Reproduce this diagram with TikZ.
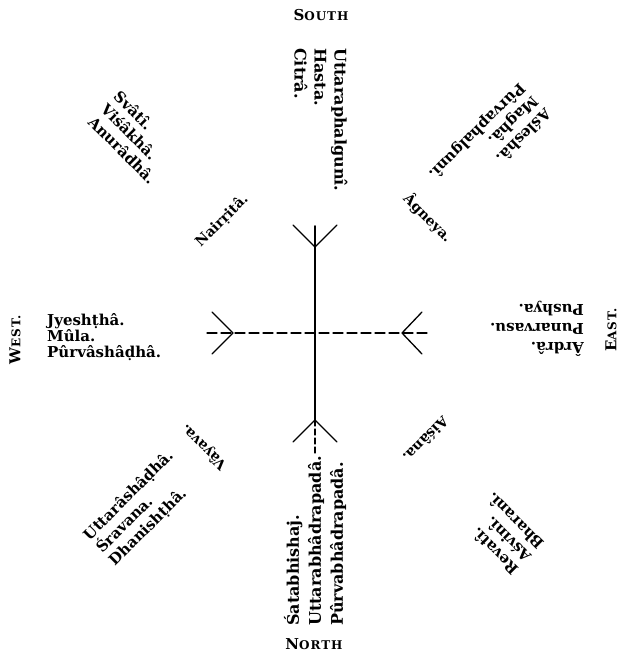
\documentclass[tikz,border=0pt]{standalone}
\usepackage{fontspec}
\setmainfont{DejaVu Serif}
\newcommand{\quartername}[2]{#1{\fontsize{12}{12}\selectfont#2}}
\begin{document}
\begin{tikzpicture}[x=1pt,y=-1pt,line cap=round,
    naksatra/.style={font=\bfseries\fontsize{16}{#1}\selectfont,align=left,inner sep=0pt},
    naksatra/.default=19,
    corner/.style={font=\bfseries\fontsize{15}{18}\selectfont,align=left,inner sep=0pt},
    dikpala/.style={font=\bfseries\fontsize{14}{18}\selectfont,inner sep=0pt},
    quarter/.style={font=\bfseries\fontsize{15}{15}\selectfont\addfontfeatures{LetterSpace=8},inner sep=0pt},
    shaft/.style={line width=1.6pt},
    feather/.style={line width=1.3pt}]
  \useasboundingbox (0,0) rectangle (621,660);
  % quarters
  \node[quarter] (south) at (321,15) {\quartername{S}{OUTH}};
  \node[quarter] (north) at (314,644) {\quartername{N}{ORTH}};
  \node[quarter,rotate=90] (west) at (15,340) {\quartername{W}{EST.}};
  \node[quarter,rotate=90] (east) at (611,330) {\quartername{E}{AST.}};
  % lunar mansions
  \node[naksatra=20,rotate=-90,anchor=west] (hasta) at (321,48) {Uttaraphalgunî.\\Hasta.\\Citrâ.};
  \node[naksatra=22,rotate=90,anchor=west] (uttarabhadra) at (315,626) {Śatabhishaj.\\Uttarabhâdrapadâ.\\Pûrvabhâdrapadâ.};
  \node[naksatra,font=\bfseries\fontsize{15}{16}\selectfont,anchor=west] (mula) at (47,337) {Jyeshṭhâ.\\Mûla.\\Pûrvâshâḍhâ.};
  \node[naksatra,font=\bfseries\fontsize{15}{19}\selectfont,rotate=180,anchor=west] (punarvasu) at (584,329) {Ârdrâ.\\Punarvasu.\\Pushya.};
  \node[corner,rotate=-45,anchor=west] (visakha) at (104,106) {Svâtî.\\Viśâkhâ.\\Anurâdhâ.};
  \node[corner,rotate=225,anchor=west] (magha) at (535,98) {Aśleshâ.\\Maghâ.\\Pûrvaphalgunî.};
  \node[corner,rotate=135,anchor=west] (asvini) at (528,560) {Revatî.\\Aśvinî.\\Bharanî.};
  \node[corner,rotate=45,anchor=west] (sravana) at (99,551) {Uttarâshâḍhâ.\\Śravana.\\Dhanishṭhâ.};
  % intermediate points
  \node[dikpala,rotate=45] (nairrita) at (222,221) {Nairṛitâ.};
  \node[dikpala,rotate=-45] (agneya) at (428,218) {Âgneya.};
  \node[dikpala,rotate=225] (aisana) at (426,440) {Aiśâna.};
  \node[dikpala,rotate=135] (vayava) at (204,447) {Vâyava.};
  % the cross
  \coordinate (centre) at (315,333);
  \coordinate (top) at (315,226); \coordinate (topnock) at (315,247);
  \coordinate (bottom) at (315,455); \coordinate (bottomnock) at (315,420);
  \coordinate (left) at (207,333); \coordinate (leftnock) at (233,333);
  \coordinate (right) at (427,333); \coordinate (rightnock) at (402,333);
  \draw[shaft] (top) -- (bottomnock);
  \draw[feather,dash pattern=on 6pt off 3pt] (bottomnock) -- (bottom);
  \draw[feather,dash pattern=on 10pt off 4pt] (left) -- (right);
  \foreach \s in {-1,1} {
    \draw[feather] (topnock) -- ++(22*\s,-22);
    \draw[feather] (bottomnock) -- ++(22*\s,22);
    \draw[feather] (leftnock) -- ++(-21,21*\s);
    \draw[feather] (rightnock) -- ++(20,21*\s);
  }
\end{tikzpicture}
\end{document}
